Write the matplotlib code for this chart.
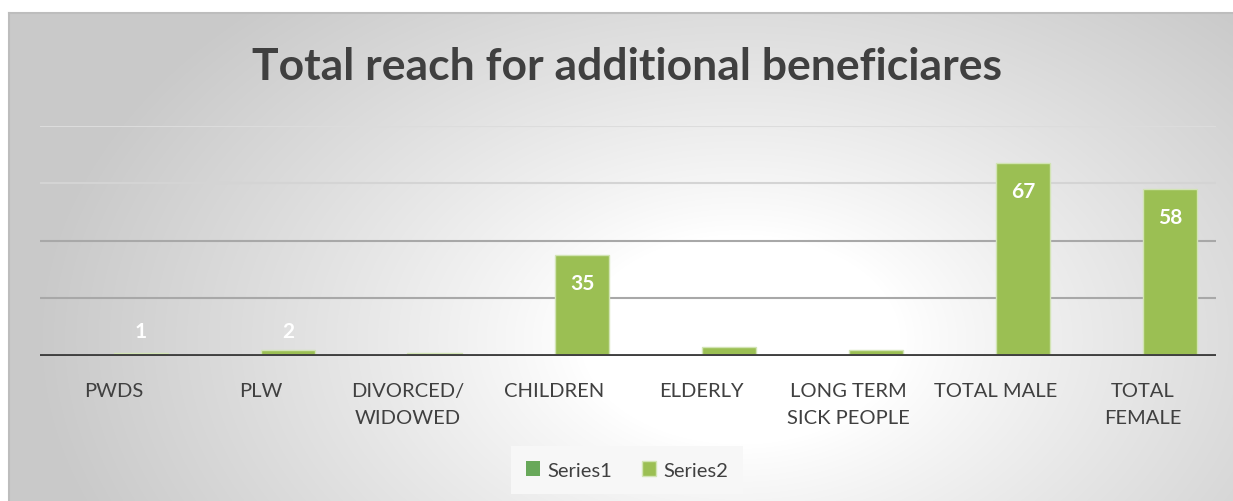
import numpy as np
import matplotlib.pyplot as plt

plt.rcParams['font.family'] = ['Lato', 'DejaVu Sans']

# data
categories = ['PWDS', 'PLW', 'DIVORCED/\nWIDOWED', 'CHILDREN', 'ELDERLY',
              'LONG TERM\nSICK PEOPLE', 'TOTAL MALE', 'TOTAL\nFEMALE']
series1 = [0, 0, 0, 0, 0, 0, 0, 0]
series2 = [1, 2, 1, 35, 3, 2, 67, 58]
labels2 = ['1', '2', '', '35', '', '', '67', '58']
grid_levels = [20, 40, 60, 80]

W, H = 1233, 502
fig = plt.figure(figsize=(W / 100, H / 100), dpi=100)

# chart area background (radial grey -> white gradient)
bg = fig.add_axes([9 / W, 0, 1 - 9 / W, 1 - 14 / H], zorder=-5)
yy, xx = np.mgrid[14:H, 9:W].astype(float)
d = np.sqrt(((xx - 740) / 640) ** 2 + ((yy - 340) / 420) ** 2)
v = 1 - 0.21 * np.clip((d - 0.25) / 0.85, 0, 1) ** 0.9
bg.imshow(np.dstack([v, v, v]), aspect='auto', extent=[0, 1, 0, 1])
bg.set_xlim(0, 1)
bg.set_ylim(0, 1)
bg.set_xticks([])
bg.set_yticks([])
for s in ['bottom', 'right']:
    bg.spines[s].set_visible(False)
for s in ['top', 'left']:
    bg.spines[s].set_color('#bdbdbd')
    bg.spines[s].set_linewidth(1.5)

ax = fig.add_axes([40 / W, 1 - 356.5 / H, 1176 / W, (356.5 - 127) / H])
ax.patch.set_alpha(0)
x = np.arange(len(categories))
w = 0.374

grid_cols = ['#a8a8a8', '#a8a8a8', '#d4d4d4', '#dcdcdc']
for g, c in zip(grid_levels, grid_cols):
    ax.axhline(g, color=c, lw=1.5, zorder=1)

ax.bar(x - w / 2, series1, w, color='#68a85a', label='Series1', zorder=2)
ax.bar(x + w / 2, series2, w, color='#9bbf53', edgecolor='#d2e4b4', lw=1.0,
       label='Series2', zorder=2)

for xi, val, lab in zip(x, series2, labels2):
    if lab:
        ax.text(xi + w / 2, max(val - 9.8, 8.7), lab, ha='center', va='center',
                color='white', fontsize=15, fontweight='bold', zorder=4)

ax.axhline(0, color='#404040', lw=2.8, zorder=3)
ax.set_xlim(-0.5, len(categories) - 0.5)
ax.set_ylim(0, 80)
ax.set_yticks([])
ax.set_xticks(x)
ax.set_xticklabels(categories, fontsize=14.5, color='#404040', linespacing=1.7)
ax.tick_params(axis='x', length=0, pad=19)
for s in ax.spines.values():
    s.set_visible(False)

fig.text(627 / W, 1 - 67 / H, 'Total reach for additional beneficiares',
         ha='center', va='center', fontsize=32, fontweight='bold', color='#404040')

leg = fig.legend(loc='center', bbox_to_anchor=(627 / W, 1 - 471 / H), ncol=2,
                 frameon=True, fontsize=14.5, handlelength=0.7, handleheight=0.7,
                 handletextpad=0.35, columnspacing=1.5, borderpad=0.45,
                 borderaxespad=0)
leg.get_frame().set_facecolor('#f7f7f7')
leg.get_frame().set_edgecolor('none')
leg.get_frame().set_boxstyle('square')
leg.get_frame().set_alpha(1)
for t in leg.get_texts():
    t.set_color('#404040')

fig.savefig('out.png', dpi=100)
